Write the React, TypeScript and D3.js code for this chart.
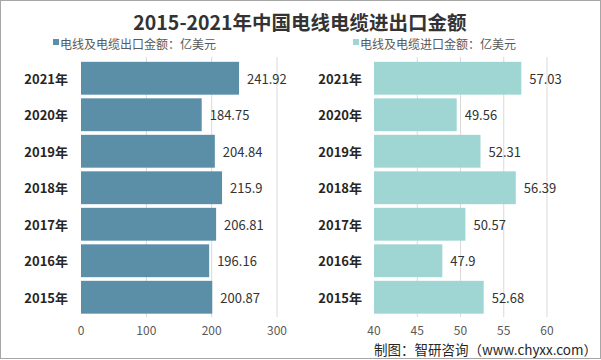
import React from "react";
import * as d3 from "d3";

const years = ["2021年", "2020年", "2019年", "2018年", "2017年", "2016年", "2015年"];
const exportValues = [241.92, 184.75, 204.84, 215.9, 206.81, 196.16, 200.87];
const importValues = [57.03, 49.56, 52.31, 56.39, 50.57, 47.9, 52.68];
const exportTicks = [0, 100, 200, 300];
const importTicks = [40, 45, 50, 55, 60];
const title = "2015-2021年中国电线电缆进出口金额";
const exportLegend = "电线及电缆出口金额：亿美元";
const importLegend = "电线及电缆进口金额：亿美元";
const source = "制图：智研咨询（www.chyxx.com）";

const W = 601;
const H = 360;
const FONT = "'Noto Sans CJK SC', 'Noto Sans', sans-serif";

type PanelProps = {
  values: number[];
  domain: [number, number];
  range: [number, number];
  ticks: number[];
  color: string;
  labelRight: number;
};

function Panel({ values, domain, range, ticks, color, labelRight }: PanelProps) {
  const x = d3.scaleLinear().domain(domain).range(range);
  const y = d3.scaleBand<string>().domain(years).range([60, 315.5]).paddingInner(0.1).paddingOuter(0.05);
  return (
    <g>
      {ticks.slice(1).map((t) => (
        <line key={"g" + t} x1={x(t)} x2={x(t)} y1={57} y2={317} stroke="#d9d9d9" strokeWidth={1} />
      ))}
      {years.map((yr, i) => (
        <g key={yr}>
          <rect x={x(domain[0])} y={y(yr)!} width={x(values[i]) - x(domain[0])} height={y.bandwidth()} fill={color} />
          <text
            x={x(values[i]) + 8}
            y={y(yr)! + y.bandwidth() / 2}
            dominantBaseline="central"
            fontSize={13}
            fill="#333"
            fontFamily={FONT}
          >
            {values[i]}
          </text>
          <text
            x={labelRight}
            y={y(yr)! + y.bandwidth() / 2}
            dominantBaseline="central"
            textAnchor="end"
            fontSize={13}
            fontWeight="bold"
            fill="#262626"
            fontFamily={FONT}
          >
            {yr}
          </text>
        </g>
      ))}
      {ticks.map((t) => (
        <text
          key={"t" + t}
          x={x(t)}
          y={329.5}
          dominantBaseline="central"
          textAnchor="middle"
          fontSize={12}
          fill="#595959"
          fontFamily={FONT}
        >
          {t}
        </text>
      ))}
    </g>
  );
}

export default function App() {
  return (
    <svg
      width={W}
      height={H}
      style={{ position: "absolute", left: 0, top: 0, background: "#fff" }}
      fontFamily={FONT}
    >
      <rect x={0.5} y={0.5} width={W - 1} height={H - 2} fill="#fff" stroke="#a6a6a6" strokeWidth={1} />
      <text x={300} y={21} textAnchor="middle" dominantBaseline="central" fontSize={19.5} fontWeight="bold" fill="#333">
        {title}
      </text>
      <rect x={53} y={39} width={6} height={6} fill="#5b8fa8" />
      <text x={60} y={43} dominantBaseline="central" fontSize={12} fill="#595959">
        {exportLegend}
      </text>
      <rect x={353} y={39} width={6} height={6} fill="#9fd6d3" />
      <text x={360} y={43} dominantBaseline="central" fontSize={12} fill="#595959">
        {importLegend}
      </text>
      <Panel values={exportValues} domain={[0, 300]} range={[81, 277]} ticks={exportTicks} color="#5b8fa8" labelRight={68} />
      <Panel values={importValues} domain={[40, 60]} range={[374, 547]} ticks={importTicks} color="#9fd6d3" labelRight={362} />
      <text x={597} y={348.5} textAnchor="end" dominantBaseline="central" fontSize={13.5} fill="#262626">
        {source}
      </text>
    </svg>
  );
}
